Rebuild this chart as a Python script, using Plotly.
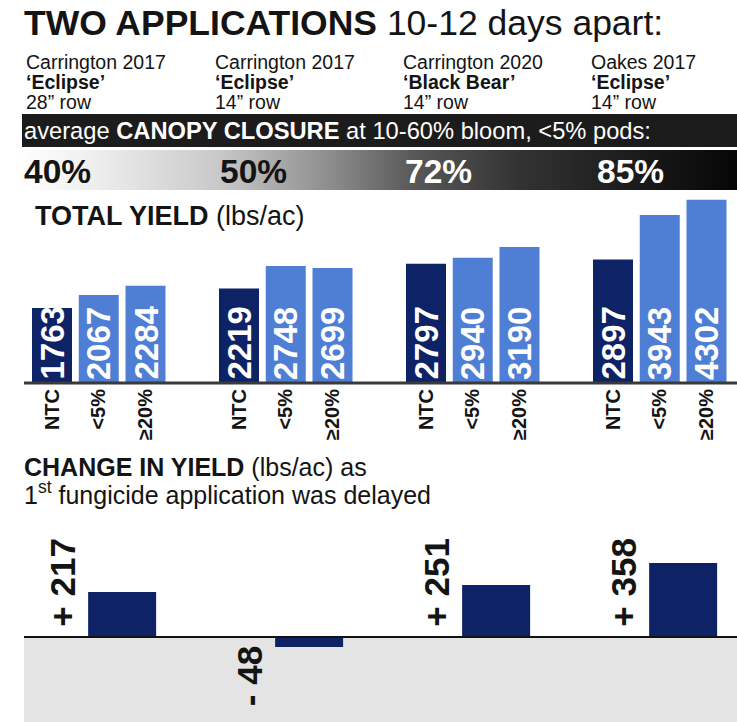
import plotly.graph_objects as go

W, H = 737, 722

# ---------------- data ----------------
sites = ["Carrington 2017", "Carrington 2017", "Carrington 2020", "Oakes 2017"]
cultivars = ["‘Eclipse’", "‘Eclipse’", "‘Black Bear’", "‘Eclipse’"]
row_spacing = ["28” row", "14” row", "14” row", "14” row"]
canopy_closure = [40, 50, 72, 85]          # % canopy closure at 10-60% bloom
treatments = ["NTC", "&lt;5%", "≥20%"]
yield_ntc = [1763, 2219, 2797, 2897]       # lbs/ac
yield_early = [2067, 2748, 2940, 3943]     # lbs/ac, 1st app at <5% pods
yield_late = [2284, 2699, 3190, 4302]      # lbs/ac, 1st app at >=20% pods
yield_change = [217, -48, 251, 358]        # lbs/ac, late minus early

# ---------------- styling ----------------
FONT = "Arial, 'Liberation Sans', Helvetica, sans-serif"
NAVY = "#0e2266"
BLUE = "#4f7fd5"
INK = "#141414"


def px(x):
    return x / W


def py(y):
    return 1 - y / H


# x slots: 4 per site (3 bars + a gap)
SLOT_PX = 46.75
X0_PX = 52
XR = [-X0_PX / SLOT_PX, (W - X0_PX) / SLOT_PX]
BAR_W = 40 / SLOT_PX
CHG_W = 68 / SLOT_PX

fig = go.Figure()

# ---- total yield bars ----
series = [yield_ntc, yield_early, yield_late]
colors = [NAVY, BLUE, BLUE]
tickvals, ticktext = [], []
for j, (vals, col) in enumerate(zip(series, colors)):
    xs = [4 * g + j for g in range(len(vals))]
    fig.add_trace(go.Bar(x=xs, y=vals, width=BAR_W, marker=dict(color=col, line=dict(width=0)),
                         xaxis="x", yaxis="y", showlegend=False, hoverinfo="skip"))
    for x, v in zip(xs, vals):
        fig.add_annotation(x=x, y=0, xref="x", yref="y", text=f"<b>{v}</b>", textangle=-90,
                           xanchor="center", yanchor="bottom", yshift=1, showarrow=False,
                           font=dict(family=FONT, size=33, color="white"))
    tickvals += xs
    ticktext += [f"<b>{treatments[j]}</b>"] * len(xs)

# ---- change in yield bars ----
cx = [4 * g + 1.5 for g in range(len(yield_change))]
fig.add_trace(go.Bar(x=cx, y=yield_change, width=CHG_W, marker=dict(color=NAVY, line=dict(width=0)),
                     xaxis="x2", yaxis="y2", showlegend=False, hoverinfo="skip"))
for x, v in zip(cx, yield_change):
    label = f"+ {v}" if v > 0 else f"- {abs(v)}"
    fig.add_annotation(x=x - CHG_W / 2, y=0, xref="x2", yref="y2", text=f"<b>{label}</b>",
                       textangle=-90, xanchor="center", yanchor="bottom" if v > 0 else "top",
                       xshift=-26, yshift=8 if v > 0 else -7, showarrow=False,
                       font=dict(family=FONT, size=35, color=INK))

# ---- canopy-closure gradient band (decoration on a pixel canvas) ----
BAND = dict(x0=20, x1=W, y0=150, y1=190)
GRADIENT = [[0.0, "#ffffff"], [0.1, "#efefef"], [0.28, "#c8c8c8"], [0.43, "#8e8e8e"],
            [0.55, "#585858"], [0.7, "#323232"], [0.85, "#1c1c1c"], [1.0, "#060606"]]
fig.add_trace(go.Scatter(
    x=[BAND["x0"], BAND["x1"], BAND["x1"], BAND["x0"], BAND["x0"]],
    y=[BAND["y0"], BAND["y0"], BAND["y1"], BAND["y1"], BAND["y0"]],
    fill="toself", mode="none",
    fillgradient=dict(type="horizontal", colorscale=GRADIENT),
    xaxis="x3", yaxis="y3", showlegend=False, hoverinfo="skip"))

shapes = [
    # dark header strip
    dict(type="rect", xref="paper", yref="paper", x0=px(22), x1=1, y0=py(147), y1=py(114),
         fillcolor="#1c1c1c", line=dict(width=0), layer="below"),
    # shaded area under the change baseline
    dict(type="rect", xref="paper", yref="paper", x0=px(24), x1=1, y0=0, y1=py(638),
         fillcolor="#e4e4e4", line=dict(width=0), layer="below"),
    # baselines
    dict(type="line", xref="paper", yref="paper", x0=px(24), x1=1, y0=py(383), y1=py(383),
         line=dict(color="#3a3a3a", width=3), layer="above"),
    dict(type="line", xref="paper", yref="paper", x0=px(24), x1=1, y0=py(637), y1=py(637),
         line=dict(color="#111111", width=2), layer="above"),
]

annotations = []


def text(x, y, s, size, color=INK, bold=False):
    annotations.append(dict(x=px(x), y=py(y), xref="paper", yref="paper", text=f"<b>{s}</b>" if bold else s,
                            xanchor="left", yanchor="middle", showarrow=False,
                            font=dict(family=FONT, size=size, color=color)))


text(22, 23, "<b>TWO APPLICATIONS</b> 10-12 days apart:", 35.5)

col_x = [24, 213, 401, 589]
for cxp, s, c, r in zip(col_x, sites, cultivars, row_spacing):
    text(cxp, 62, s, 19.5)
    text(cxp, 82, c, 19.5, bold=True)
    text(cxp, 102, r, 19.5)

text(22, 131, "average <b>CANOPY CLOSURE</b> at 10-60% bloom, &lt;5% pods:", 23.7, color="white")

pct_x = [22, 218, 403, 595]
for xp, v in zip(pct_x, canopy_closure):
    text(xp, 172, f"{v}%", 33.5, color=INK if v < 60 else "white", bold=True)

text(33, 216, "<b>TOTAL YIELD</b> (lbs/ac)", 27)
text(22, 467, "<b>CHANGE IN YIELD</b> (lbs/ac) as", 25)
text(22, 493, "1<sup>st</sup> fungicide application was delayed", 25)

fig.update_layout(
    width=W, height=H, margin=dict(l=0, r=0, t=0, b=0),
    paper_bgcolor="white", plot_bgcolor="rgba(0,0,0,0)",
    showlegend=False, shapes=shapes, annotations=list(fig.layout.annotations) + annotations,
    xaxis=dict(domain=[0, 1], range=XR, anchor="y", tickmode="array", tickvals=tickvals,
               ticktext=ticktext, tickangle=-90, ticks="", showgrid=False, zeroline=False,
               showline=False, ticklabelstandoff=1,
               tickfont=dict(family=FONT, size=20, color=INK)),
    yaxis=dict(domain=[py(383), py(195)], range=[0, 4413], visible=False),
    xaxis2=dict(domain=[0, 1], range=XR, anchor="y2", visible=False),
    yaxis2=dict(domain=[0, py(530)], range=[-410.6, 517], visible=False),
    xaxis3=dict(domain=[0, 1], range=[0, W], anchor="y3", visible=False),
    yaxis3=dict(domain=[0, 1], range=[H, 0], anchor="x3", visible=False),
)

fig.write_html("out.html")
